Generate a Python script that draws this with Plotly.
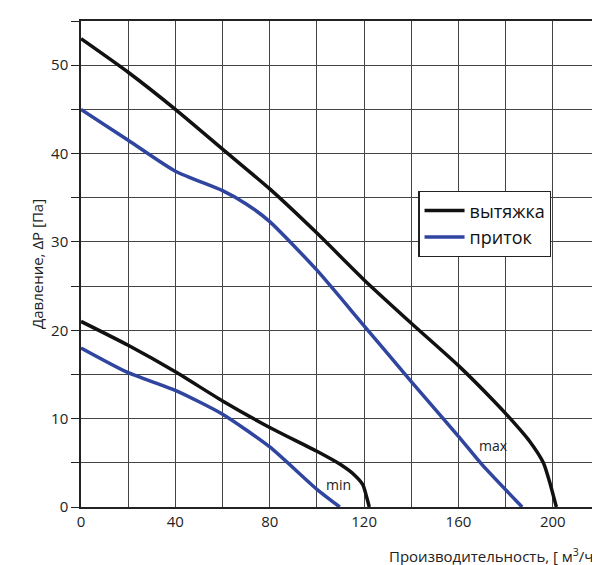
import plotly.graph_objects as go

# max curves
max_out_x = [0, 20, 40, 60, 80, 100, 120, 140, 160, 175, 182, 190, 196, 199, 201.5]
max_out_y = [53, 49.2, 45, 40.5, 36, 31, 25.7, 20.8, 16, 12, 10, 7.5, 5, 2.5, 0]
max_in_x = [0, 20, 40, 60, 70, 80, 100, 120, 140, 160, 170, 187]
max_in_y = [45, 41.5, 38, 35.8, 34.3, 32.3, 26.8, 20.5, 14.2, 8, 4.8, 0]
# min curves
min_out_x = [0, 20, 40, 60, 80, 100, 110, 116, 119.5, 120.7, 121.5, 122.2]
min_out_y = [21, 18.3, 15.3, 12, 9, 6.3, 4.8, 3.6, 2.5, 1.5, 0.7, 0]
min_in_x = [0, 20, 40, 60, 80, 100, 109.7]
min_in_y = [18, 15.2, 13.2, 10.5, 6.8, 2, 0]

x_ticks = [0, 20, 40, 60, 80, 100, 120, 140, 160, 180, 200, 220]
x_labels = ["0", "", "40", "", "80", "", "120", "", "160", "", "200", ""]
y_ticks = [0, 5, 10, 15, 20, 25, 30, 35, 40, 45, 50, 55]
y_labels = ["0", "", "10", "", "20", "", "30", "", "40", "", "50", ""]

FONT = "Open Sans"
BLACK = "#111111"
BLUE = "#2f45a0"

fig = go.Figure()
fig.add_trace(go.Scatter(x=max_out_x, y=max_out_y, mode="lines", name="вытяжка",
                         line=dict(color=BLACK, width=3.5, shape="spline", smoothing=0.6)))
fig.add_trace(go.Scatter(x=max_in_x, y=max_in_y, mode="lines", name="приток",
                         line=dict(color=BLUE, width=3.5, shape="spline", smoothing=0.6)))
fig.add_trace(go.Scatter(x=min_out_x, y=min_out_y, mode="lines", showlegend=False,
                         line=dict(color=BLACK, width=3.5, shape="spline", smoothing=0.6)))
fig.add_trace(go.Scatter(x=min_in_x, y=min_in_y, mode="lines", showlegend=False,
                         line=dict(color=BLUE, width=3.5, shape="spline", smoothing=0.6)))

fig.add_annotation(x=175, y=7, text="max", showarrow=False, font=dict(size=14, color="#222"))
fig.add_annotation(x=109, y=2.6, text="min", showarrow=False, font=dict(size=14, color="#222"))
fig.add_annotation(x=1, y=0, xref="paper", yref="paper", xanchor="right", yanchor="top",
                   yshift=-36, text="Производительность, [ м<sup>3</sup>/ч]", showarrow=False,
                   font=dict(size=15, color="#222"))

fig.update_xaxes(range=[0, 220], tickvals=x_ticks, ticktext=x_labels, showgrid=True,
                 gridcolor="#444", gridwidth=1.2, zeroline=False, showline=True,
                 linecolor="#222", linewidth=1.5, mirror=True, ticks="outside",
                 ticklen=0, tickfont=dict(size=15, color="#222"), automargin=False)
fig.update_yaxes(range=[0, 55], tickvals=y_ticks, ticktext=y_labels, showgrid=True,
                 gridcolor="#444", gridwidth=1.2, zeroline=False, showline=True,
                 linecolor="#222", linewidth=1.5, mirror=True, ticks="outside",
                 ticklen=8, tickcolor="#222", tickfont=dict(size=15, color="#222"),
                 automargin=False,
                 title=dict(text="Давление, ΔP [Па]", font=dict(size=15, color="#222"), standoff=4))

fig.update_layout(
    width=600, height=565,
    margin=dict(l=73, r=8, t=13, b=66),
    plot_bgcolor="white", paper_bgcolor="white",
    font=dict(family=FONT),
    legend=dict(x=0.65, y=0.65, xanchor="left", yanchor="top", bgcolor="white",
                bordercolor="#222", borderwidth=1.2, font=dict(size=18, color="#111"),
                itemwidth=40, tracegroupgap=10),
)

fig.write_html("out.html")
